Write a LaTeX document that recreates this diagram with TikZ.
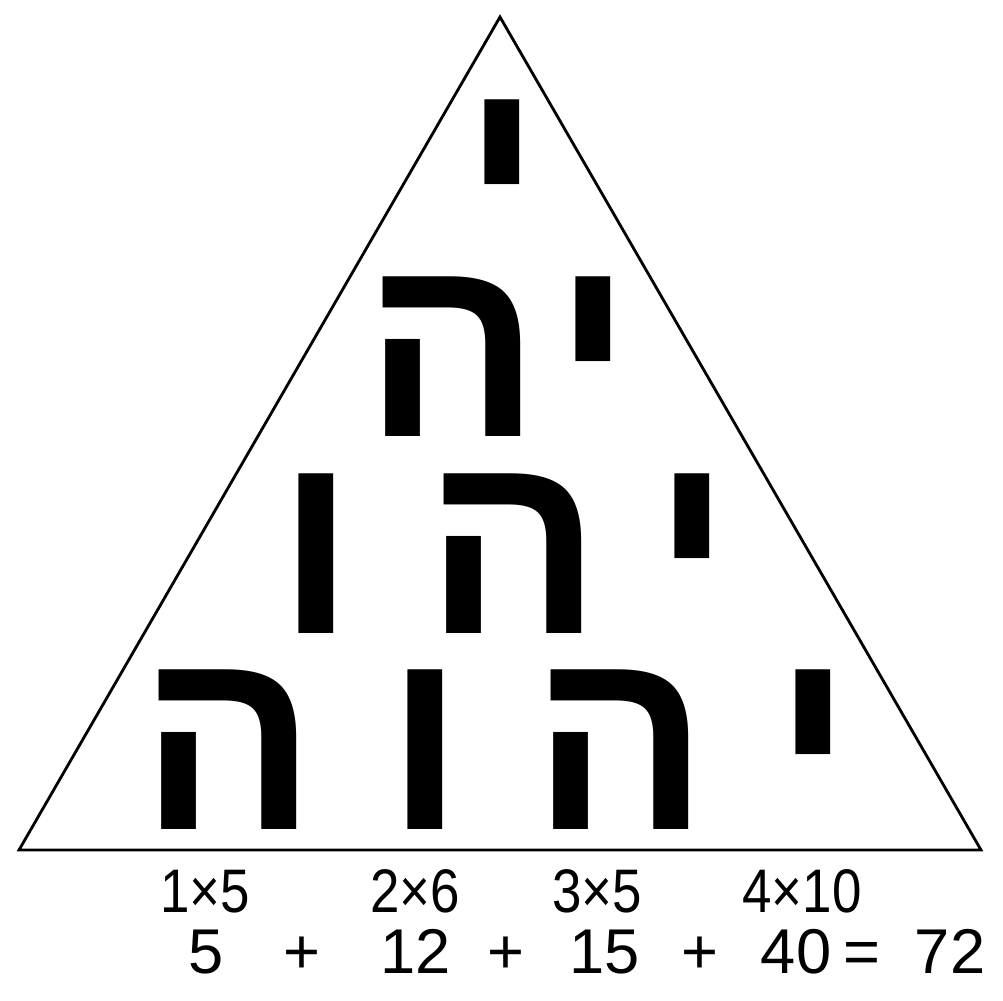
\documentclass[tikz,border=0pt]{standalone}
\usepackage{fontspec}
\setmainfont{Liberation Sans}
\newfontfamily\hebfont[Script=Hebrew]{Liberation Sans}
\newfontfamily\narrowfont[FakeStretch=0.86]{Liberation Sans}
\usetikzlibrary{positioning}

\begin{document}
\begin{tikzpicture}[x=0.2mm, y=-0.2mm,
    letter/.style={font=\hebfont\bfseries\fontsize{150}{150}\selectfont, inner sep=0pt, anchor=base, text height=0.75em, text depth=0pt},
    factor/.style={font=\narrowfont\fontsize{35}{35}\selectfont, inner sep=0pt, anchor=base, text height=0.72em, text depth=0pt},
    term/.style={font=\fontsize{36}{36}\selectfont, inner sep=0pt, anchor=base, text height=0.72em, text depth=0pt}]
    \useasboundingbox (0,0) rectangle (1003,1000);

    % Triangle
    \coordinate (apex) at (500,17);
    \coordinate (left) at (19,850);
    \coordinate (right) at (981,850);
    \draw[line width=1.6pt] (left) -- (apex) -- (right) -- cycle;

    % Row 1
    \node[letter] (yod1) at (502,259) {י};

    % Row 2
    \node[letter] (he2) at (453,436) {ה};
    \node[letter] (yod2) at (593,436) {י};

    % Row 3
    \node[letter] (vav3) at (316,633) {ו};
    \node[letter] (he3) at (514,633) {ה};
    \node[letter] (yod3) at (692,633) {י};

    % Row 4
    \node[letter] (he4a) at (229,829) {ה};
    \node[letter] (vav4) at (425,829) {ו};
    \node[letter] (he4b) at (621,829) {ה};
    \node[letter] (yod4) at (813,829) {י};

    % Products
    \node[factor] (f1) at (205,912) {1×5};
    \node[factor] (f2) at (415,912) {2×6};
    \node[factor] (f3) at (597,912) {3×5};
    \node[factor] (f4) at (802,912) {4×10};

    % Sum
    \node[term] (t1) at (206,973) {5};
    \node[term] (p1) at (302,973) {+};
    \node[term] (t2) at (416,973) {12};
    \node[term] (p2) at (506,973) {+};
    \node[term] (t3) at (605,973) {15};
    \node[term] (p3) at (700,973) {+};
    \node[term] (t4) at (796,973) {40};
    \node[term] (eq) at (862,973) {=};
    \node[term] (total) at (950,973) {72};
\end{tikzpicture}
\end{document}
